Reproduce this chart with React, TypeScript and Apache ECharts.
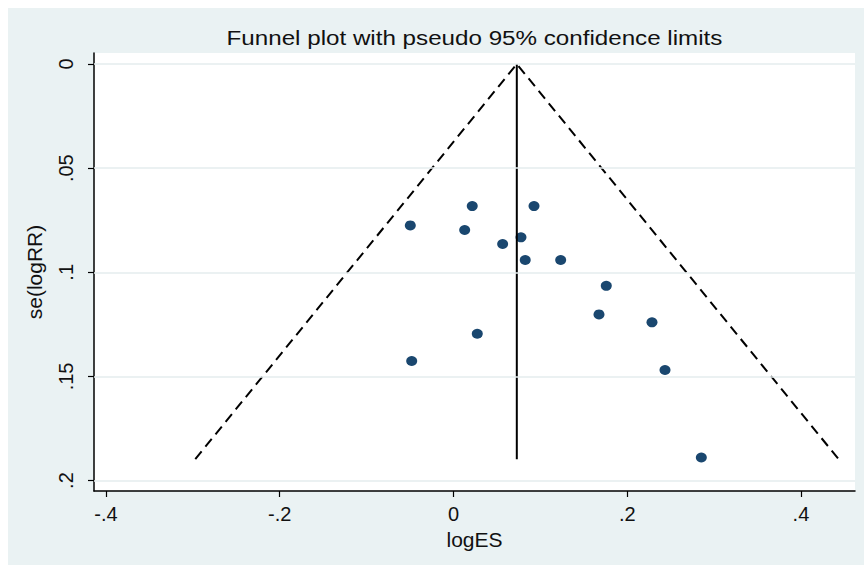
import React, { useEffect, useRef } from "react";
import * as echarts from "echarts";

// Study estimates: [logES, se(logRR)]
const studyLogES = [0.0216, 0.0927, -0.0497, 0.0129, 0.0566, 0.0777, 0.0826, 0.1234, 0.1759, 0.1675, 0.2285, 0.0274, -0.0481, 0.2435, 0.2853];
const studySE = [0.0682, 0.0682, 0.0775, 0.0797, 0.0864, 0.0832, 0.0941, 0.0941, 0.1065, 0.1202, 0.124, 0.1295, 0.1426, 0.1469, 0.1889];

// Pooled estimate line (x) from se 0 to max se
const pooledX = [0.0729, 0.0729];
const pooledY = [0, 0.1897];

// Pseudo 95% confidence limits (left end, apex, right end)
const funnelX = [-0.2972, 0.0729, 0.4433];
const funnelY = [0.1897, 0, 0.1897];

// Tick values and labels
const xTicks = [-0.4, -0.2, 0, 0.2, 0.4];
const xTickLabels = ["-.4", "-.2", "0", ".2", ".4"];
const yTicks = [0, 0.05, 0.1, 0.15, 0.2];
const yTickLabels = ["0", ".05", ".1", ".15", ".2"];

const X_MIN = -0.4138;
const X_MAX = 0.4622;
const Y_MIN = -0.0053;
const Y_MAX = 0.205;

const FONT = "'Liberation Sans', Arial, sans-serif";

export default function App() {
  const ref = useRef<HTMLDivElement>(null);

  useEffect(() => {
    if (!ref.current) return;
    const chart = echarts.init(ref.current, undefined, { renderer: "svg" });

    const fmt = (vals: number[], labels: string[]) => (v: number) => {
      const i = vals.findIndex((t) => Math.abs(t - v) < 1e-9);
      return i >= 0 ? labels[i] : "";
    };

    chart.setOption({
      animation: false,
      backgroundColor: "#EAF2F3",
      graphic: [
        {
          type: "text",
          x: 466.5,
          y: 30,
          scaleX: 1.18,
          style: {
            text: "Funnel plot with pseudo 95% confidence limits",
            font: `20.5px ${FONT}`,
            fill: "#111",
            textAlign: "center",
            textVerticalAlign: "middle",
          },
        },
      ],
      grid: {
        left: 86,
        right: 9,
        top: 45,
        bottom: 74,
        show: true,
        backgroundColor: "#ffffff",
        borderWidth: 0,
      },
      xAxis: {
        type: "value",
        min: X_MIN,
        max: X_MAX,
        name: "logES",
        nameLocation: "middle",
        nameGap: 32,
        nameTextStyle: { fontFamily: FONT, fontSize: 21, color: "#111" },
        axisLine: { show: true, onZero: false, lineStyle: { color: "#000", width: 1.5 } },
        axisTick: { show: true, length: 6, lineStyle: { color: "#000", width: 1.2 }, customValues: xTicks },
        axisLabel: {
          customValues: xTicks,
          formatter: fmt(xTicks, xTickLabels),
          fontFamily: FONT,
          fontSize: 20,
          color: "#111",
          margin: 13,
        },
        splitLine: { show: false },
      },
      yAxis: {
        type: "value",
        inverse: true,
        min: Y_MIN,
        max: Y_MAX,
        name: "se(logRR)",
        nameLocation: "middle",
        nameGap: 49,
        nameRotate: 90,
        nameTextStyle: { fontFamily: FONT, fontSize: 21, color: "#111" },
        axisLine: { show: true, onZero: false, lineStyle: { color: "#000", width: 1.5 } },
        axisTick: { show: true, length: 6, lineStyle: { color: "#000", width: 1.2 }, customValues: yTicks },
        axisLabel: {
          customValues: yTicks,
          formatter: fmt(yTicks, yTickLabels),
          rotate: 90,
          fontFamily: FONT,
          fontSize: 20,
          color: "#111",
          margin: 18,
        },
        splitLine: { show: false },
      },
      series: [
        {
          type: "line",
          name: "grid",
          data: [],
          silent: true,
          markLine: {
            silent: true,
            symbol: ["none", "none"],
            label: { show: false },
            lineStyle: { color: "#E4ECEE", width: 1.5, type: "solid" },
            data: yTicks.map((v) => ({ yAxis: v })),
          },
        },
        {
          type: "line",
          name: "limits",
          data: funnelX.map((x, i) => [x, funnelY[i]]),
          showSymbol: false,
          symbol: "none",
          lineStyle: { color: "#000", width: 2, type: [10, 6] },
          silent: true,
        },
        {
          type: "line",
          name: "pooled",
          data: pooledX.map((x, i) => [x, pooledY[i]]),
          showSymbol: false,
          symbol: "none",
          lineStyle: { color: "#000", width: 2 },
          silent: true,
        },
        {
          type: "scatter",
          name: "studies",
          data: studyLogES.map((x, i) => [x, studySE[i]]),
          symbol: "circle",
          symbolSize: [11, 10],
          itemStyle: { color: "#1A476F", opacity: 1 },
        },
      ],
    });

    return () => chart.dispose();
  }, []);

  return (
    <div
      ref={ref}
      style={{ position: "absolute", left: 8, top: 8, width: 856, height: 557 }}
    />
  );
}
